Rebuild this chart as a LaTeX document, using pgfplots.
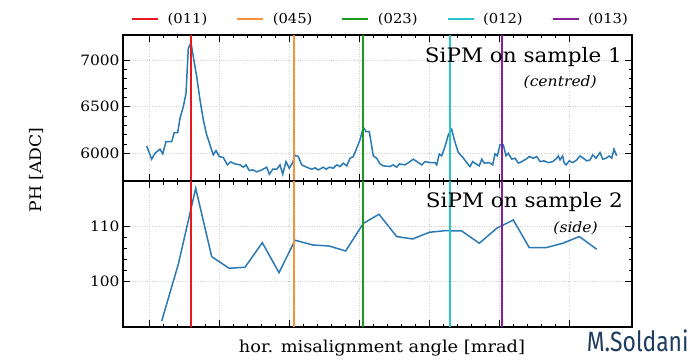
\documentclass[border=0pt]{standalone}
\usepackage{pgfplots}
\pgfplotsset{compat=1.18}
\usepackage{fontspec}
\setmainfont{DejaVu Serif}[FakeStretch=1.08]
\newfontfamily\sigfont{Fira Sans}[FakeStretch=0.82]

\definecolor{series}{HTML}{2A79B5}
\definecolor{cA}{HTML}{E8191C}
\definecolor{cB}{HTML}{F7923A}
\definecolor{cC}{HTML}{1E9A1E}
\definecolor{cD}{HTML}{26C6CC}
\definecolor{cE}{HTML}{8A1F9C}
\definecolor{sig}{HTML}{1D3C5E}

\pgfplotsset{
  panel/.style={
    scale only axis, width=509bp, height=146bp,
    xmin=123, xmax=632,
    xtick={149.3,219.3,289.3,359.3,429.3,499.3,569.3},
    xticklabels={},
    minor x tick num=4, minor y tick num=4,
    tick align=inside, tick pos=both,
    major tick length=7bp, minor tick length=3.5bp,
    every tick/.style={black, line width=0.6bp},
    grid=major,
    major grid style={dotted, black!18, line width=0.6bp},
    axis line style={line width=1.5bp},
    scaled y ticks=false,
    /pgf/number format/assume math mode=true,
    /pgf/number format/1000 sep={},
    ticklabel style={font=\fontsize{14.3}{17}\selectfont},
    legend image code/.code={\draw[##1] (0bp,0bp) -- (26bp,0bp); \path (-1bp,0bp) (32.5bp,0bp);},
  },
  vline/.style={line width=2bp},
}

\begin{document}
\begin{tikzpicture}[x=1bp,y=1bp]
\path[use as bounding box] (0,0) rectangle (692,363);

% upper panel: sample 1, centred
\begin{axis}[panel, at={(123bp,182bp)}, anchor=south west,
  ymin=5703, ymax=7268, ytick={6000,6500,7000},
  legend columns=5,
  legend style={at={(0.5,1)}, anchor=south, yshift=6bp, xshift=2.5bp,
    draw=none, fill=none, font=\fontsize{13.7}{16}\selectfont,
    /tikz/every even column/.append style={column sep=26bp}},
]
\addplot[series, line width=1.5bp, forget plot] coordinates {
(146.7,6079) (151.7,5937) (155,6001) (160,6044) (162.7,5994) (166,6126)
(171.7,6126) (174.3,6222) (177.7,6222) (180,6376) (183.3,6500) (186,6643)
(188.3,7125) (191,7185) (193.3,7035) (196.7,6821) (200,6572) (203.3,6358)
(206.7,6197) (210,6090) (213.3,5983) (216,6029) (219.3,5965) (223.3,5954)
(227.3,5876) (230.7,5908) (235,5886) (240,5876) (243.3,5851) (246,5876)
(249.3,5815) (252.7,5822) (256.7,5801) (261.7,5822) (266.7,5851) (269.3,5776)
(272.7,5829) (276.7,5829) (280,5876) (282.7,5776) (286,5911) (289.3,5840)
(292.7,5900) (295,5979) (298.3,5965) (301.7,5876) (306.7,5851) (311.7,5829)
(315,5844) (318.3,5822) (323.3,5851) (326,5829) (329.3,5851) (333.3,5840)
(336.7,5876) (340,5858) (343.3,5894) (346.7,5865) (350,5947) (353.3,5965)
(356.7,6055) (360,6144) (363.3,6279) (366,6233) (369.3,6233) (373.3,5972)
(376.7,5947) (380,5886) (383.3,5865) (390,5858) (393.3,5876) (396.7,5851)
(399.3,5886) (405,5876) (410,5911) (413.3,5937) (418.3,5900) (421.7,5876)
(425,5911) (430,5900) (435,5900) (436.7,5876) (439.3,5994) (441.7,5972)
(445,6072) (448.3,6197) (451.7,6258) (454.3,6144) (458.3,6008) (462.7,5958)
(466.7,5900) (470,5858) (472.7,5911) (476,5886) (479.3,5865) (481.7,5937)
(484.3,5894) (489.3,5900) (492.7,5876) (495,5994) (497.3,5972) (500,6090)
(503.3,6090) (506,5972) (508.3,6001) (511.7,5937) (515,5947) (518.3,5894)
(521.7,5911) (526,5937) (529.3,5965) (533.3,5947) (536.7,5965) (540,5911)
(544,5919) (548.3,5900) (552.7,5911) (556.7,5947) (558.3,5972) (560,5929)
(562.7,5972) (564,5900) (566,5876) (569.3,5919) (572.7,5900) (576.7,5929)
(580,5972) (583.3,5947) (586.7,5919) (590,5929) (592.7,5983) (596,5947)
(600,6008) (602.7,5937) (606,5947) (609.3,5972) (611.7,5947) (614,6044)
(616.7,5972)
};
\addplot[cA, vline] coordinates {(191,5703) (191,7268)};
\addlegendentry{(011)}
\addplot[cB, vline] coordinates {(294,5703) (294,7268)};
\addlegendentry{(045)}
\addplot[cC, vline] coordinates {(363.3,5703) (363.3,7268)};
\addlegendentry{(023)}
\addplot[cD, vline] coordinates {(449.7,5703) (449.7,7268)};
\addlegendentry{(012)}
\addplot[cE, vline] coordinates {(502.3,5703) (502.3,7268)};
\addlegendentry{(013)}
\end{axis}

% lower panel: sample 2, side
\begin{axis}[panel, at={(123bp,36bp)}, anchor=south west,
  ymin=91.76, ymax=118.3, ytick={100,110}]
\addplot[series, line width=1.5bp] coordinates {
(161.7,92.85) (178.3,103.16) (195.7,116.98) (211.7,104.55) (229,102.44)
(245,102.62) (262.3,107.09) (279,101.64) (295,107.53) (312.7,106.67)
(329,106.49) (345.7,105.58) (363.3,110.6) (379,112.25) (396.7,108.2)
(412.7,107.76) (429.3,108.98) (445,109.27) (461.7,109.22) (479.3,106.98)
(496.7,109.71) (513.3,111.22) (529.3,106.18) (546,106.18) (562.7,106.98)
(579.3,108.2) (596.7,105.89)
};
\addplot[cA, vline] coordinates {(191,91.76) (191,118.3)};
\addplot[cB, vline] coordinates {(294,91.76) (294,118.3)};
\addplot[cC, vline] coordinates {(363.3,91.76) (363.3,118.3)};
\addplot[cD, vline] coordinates {(449.7,91.76) (449.7,118.3)};
\addplot[cE, vline] coordinates {(502.3,91.76) (502.3,118.3)};
\end{axis}

% panel annotations
\node[anchor=base east, inner sep=0pt, font=\fontsize{20}{24}\selectfont] at (622,300.7) {SiPM on sample 1};
\node[anchor=base east, inner sep=0pt, font=\fontsize{14.5}{17}\selectfont\itshape] at (597,276.5) {(centred)};
\node[anchor=base east, inner sep=0pt, font=\fontsize{20}{24}\selectfont] at (623,155.5) {SiPM on sample 2};
\node[anchor=base east, inner sep=0pt, font=\fontsize{14.5}{17}\selectfont\itshape] at (598,130.5) {(side)};

% axis titles
\node[rotate=90, font=\fontsize{16}{19}\selectfont] at (36,193) {PH [ADC]};
\node[font=\fontsize{16.5}{19}\selectfont] at (382,15) {hor. misalignment angle [mrad]};

% signature
\node[anchor=base west, inner sep=0pt, text=sig, font=\sigfont\fontsize{28}{32}\selectfont] at (586.7,11.3) {M.Soldani};
\end{tikzpicture}
\end{document}
